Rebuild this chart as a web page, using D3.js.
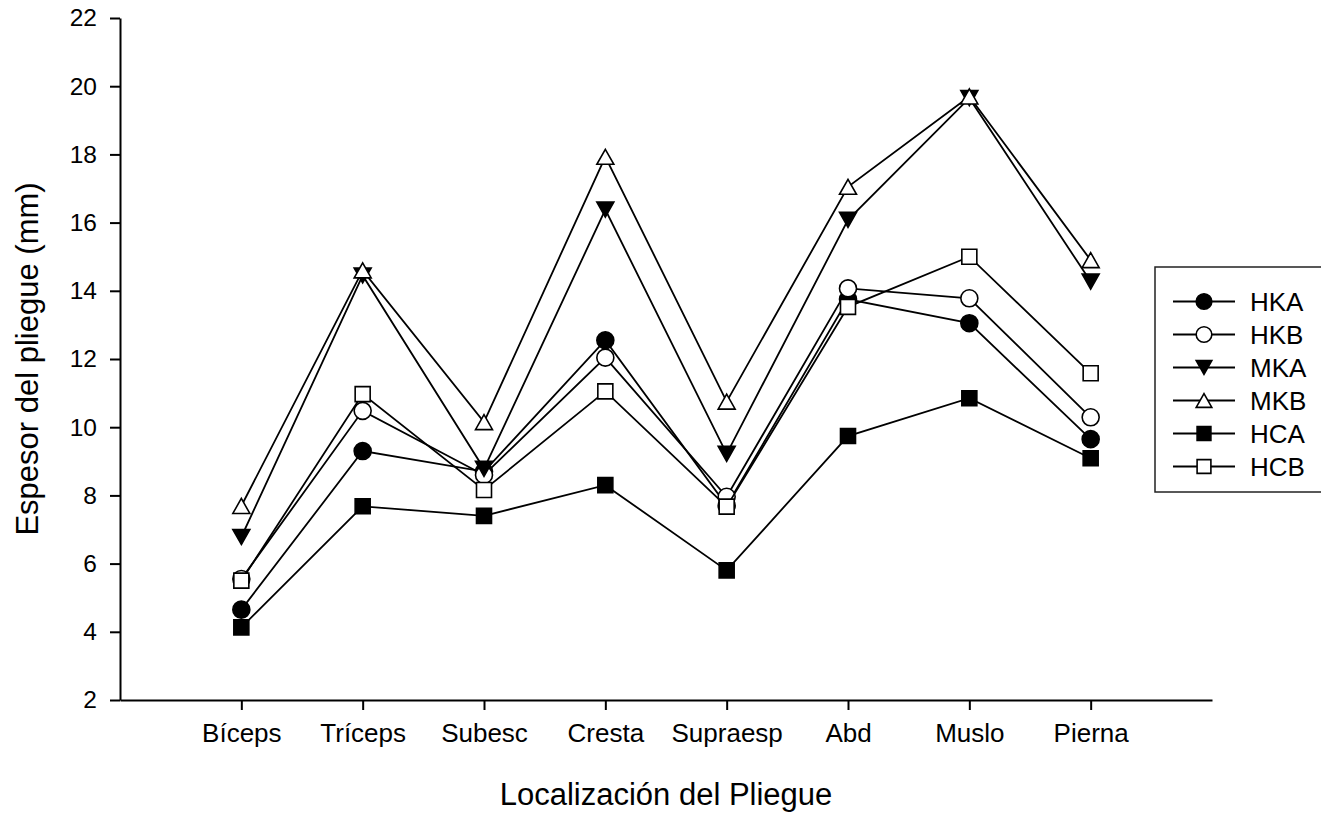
<!DOCTYPE html>
<html>
<head>
<meta charset="utf-8">
<script src="https://cdn.jsdelivr.net/npm/d3@7"></script>
<style>
  html, body { margin: 0; padding: 0; background: #fff; }
  svg { display: block; font-family: "Liberation Sans", Arial, sans-serif; }
</style>
</head>
<body>
<svg id="chart" width="1321" height="814"></svg>
<script>
const categories = ["Bíceps", "Tríceps", "Subesc", "Cresta", "Supraesp", "Abd", "Muslo", "Pierna"];
const seriesNames = ["HKA", "HKB", "MKA", "MKB", "HCA", "HCB"];
const HKA = [4.65, 9.3, 8.7, 12.55, 7.7, 13.75, 13.05, 9.65];
const HKB = [5.55, 10.48, 8.6, 12.04, 7.96, 14.07, 13.78, 10.29];
const MKA = [6.78, 14.45, 8.78, 16.38, 9.22, 16.08, 19.65, 14.27];
const MKB = [7.69, 14.6, 10.15, 17.93, 10.75, 17.05, 19.7, 14.9];
const HCA = [4.13, 7.68, 7.4, 8.3, 5.8, 9.74, 10.85, 9.09];
const HCB = [5.5, 10.97, 8.16, 11.05, 7.67, 13.53, 15.0, 11.58];
const yTicks = [2, 4, 6, 8, 10, 12, 14, 16, 18, 20, 22];
const xTitle = "Localización del Pliegue";
const yTitle = "Espesor del pliegue (mm)";

const seriesValues = { HKA, HKB, MKA, MKB, HCA, HCB };
const markerType = { HKA: "circle", HKB: "circle", MKA: "triDown", MKB: "triUp", HCA: "square", HCB: "square" };
const markerFill = { HKA: "#000", HKB: "#fff", MKA: "#000", MKB: "#fff", HCA: "#000", HCB: "#fff" };

const svg = d3.select("#chart");
const x = d3.scalePoint().domain(categories).range([120, 1212]).padding(1);
const y = d3.scaleLinear().domain([2, 22]).range([700, 18]);

function markerPath(type, s) {
  const p = d3.path();
  if (type === "circle") {
    p.arc(0, 0, 8.5 * s, 0, 2 * Math.PI);
  } else if (type === "square") {
    const h = 7.5 * s;
    p.rect(-h, -h, 2 * h, 2 * h);
  } else if (type === "triUp") {
    const w = 8.5 * s, h = 7.5 * s;
    p.moveTo(0, -h); p.lineTo(w, h); p.lineTo(-w, h); p.closePath();
  } else {
    const w = 8.5 * s, h = 7.5 * s;
    p.moveTo(0, h); p.lineTo(w, -h); p.lineTo(-w, -h); p.closePath();
  }
  return p.toString();
}

// Axes
const yAxis = d3.axisLeft(y).tickValues(yTicks).tickSize(10).tickSizeOuter(0).tickPadding(13);
const xAxis = d3.axisBottom(x).tickSize(10).tickSizeOuter(0).tickPadding(14);

const gy = svg.append("g").attr("transform", "translate(120,0)").call(yAxis);
gy.selectAll("text").attr("font-size", 24.5).attr("fill", "#000").attr("font-family", "Liberation Sans, Arial, sans-serif");
gy.selectAll("line, path").attr("stroke", "#000").attr("stroke-width", 2);

const gx = svg.append("g").attr("transform", "translate(0,700)").call(xAxis);
gx.selectAll("text").attr("font-size", 26).attr("fill", "#000").attr("font-family", "Liberation Sans, Arial, sans-serif");
gx.selectAll("line, path").attr("stroke", "#000").attr("stroke-width", 2);

// Titles
svg.append("text")
  .attr("x", 666).attr("y", 805)
  .attr("text-anchor", "middle").attr("font-size", 31)
  .text(xTitle);
svg.append("text")
  .attr("transform", "translate(38,359) rotate(-90)")
  .attr("text-anchor", "middle").attr("font-size", 31)
  .text(yTitle);

// Series
const line = d3.line().x((d, i) => x(categories[i])).y(d => y(d));
seriesNames.forEach(name => {
  const vals = seriesValues[name];
  const g = svg.append("g");
  g.append("path").attr("d", line(vals)).attr("fill", "none").attr("stroke", "#000").attr("stroke-width", 1.8);
  g.selectAll("path.m").data(vals).enter().append("path")
    .attr("class", "m")
    .attr("transform", (d, i) => `translate(${x(categories[i])},${y(d)})`)
    .attr("d", markerPath(markerType[name], 1))
    .attr("fill", markerFill[name]).attr("stroke", "#000").attr("stroke-width", 1.6);
});

// Legend
const leg = svg.append("g");
leg.append("rect").attr("x", 1155).attr("y", 267).attr("width", 220).attr("height", 225)
  .attr("fill", "none").attr("stroke", "#222").attr("stroke-width", 1.5);
seriesNames.forEach((name, i) => {
  const cy = 301.5 + i * 33;
  leg.append("line").attr("x1", 1173).attr("x2", 1235).attr("y1", cy).attr("y2", cy)
    .attr("stroke", "#000").attr("stroke-width", 1.8);
  leg.append("path").attr("transform", `translate(1204,${cy})`)
    .attr("d", markerPath(markerType[name], 0.92))
    .attr("fill", markerFill[name]).attr("stroke", "#000").attr("stroke-width", 1.6);
  leg.append("text").attr("x", 1250).attr("y", cy + 9.5).attr("font-size", 26).text(name);
});
</script>
</body>
</html>
